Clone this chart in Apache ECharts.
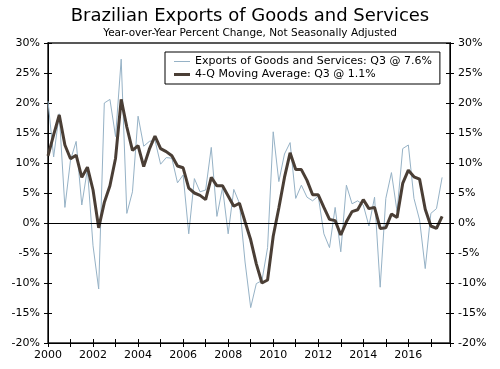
<!DOCTYPE html>
<html><head><meta charset="utf-8">
<script src="https://cdn.jsdelivr.net/npm/echarts@6/dist/echarts.min.js"></script>
<style>html,body{margin:0;padding:0;background:#fff}#c{width:500px;height:369px}</style>
</head><body><div id="c"></div>
<script>
const startYear = 2000;
const yTicks = [-20, -15, -10, -5, 0, 5, 10, 15, 20, 25, 30];
const exportsYoY = [20.3, 11.0, 18.2, 2.6, 10.5, 13.6, 3.0, 9.0, -3.8, -11.0,
  20.0, 20.6, 14.4, 27.3, 1.6, 5.2, 17.8, 12.8, 13.6, 13.8,
  9.8, 10.9, 10.8, 6.7, 8.0, -1.8, 7.4, 5.2, 5.5, 12.6,
  1.1, 5.9, -1.8, 5.6, 3.3, -6.5, -14.1, -10.1, -9.6, -4.1,
  15.2, 6.9, 11.5, 13.4, 4.1, 6.3, 4.3, 3.7, 4.5, -1.8,
  -4.1, 2.6, -4.8, 6.3, 3.2, 3.7, 3.0, -0.5, 4.3, -10.7,
  4.1, 8.4, 1.9, 12.4, 13.0, 4.1, 0.5, -7.6, 1.6, 2.4, 7.6];
const movingAvg = [11.2, 14.7, 18.0, 13.0, 10.7, 11.3, 7.6, 9.3, 5.5, -0.8,
  3.4, 6.2, 10.8, 20.6, 16.0, 12.1, 12.9, 9.4, 12.3, 14.5,
  12.4, 11.9, 11.2, 9.5, 9.2, 5.8, 5.0, 4.6, 3.9, 7.6,
  6.2, 6.2, 4.5, 2.8, 3.3, 0.2, -2.8, -6.8, -10.0, -9.5,
  -2.2, 2.5, 7.6, 11.7, 8.9, 8.9, 7.1, 4.7, 4.7, 2.6,
  0.6, 0.4, -2.0, 0.2, 1.9, 2.2, 3.9, 2.4, 2.6, -0.9,
  -0.8, 1.5, 0.9, 6.6, 8.8, 7.7, 7.3, 2.3, -0.5, -0.9, 1.1];
const seriesNames = ['Exports of Goods and Services: Q3 @ 7.6%', '4-Q Moving Average: Q3 @ 1.1%'];

const toPairs = arr => arr.map((v, i) => [startYear + i / 4, v]);
const FONT = 'DejaVu Sans';
const X_MIN = 2000, X_MAX = 2017.85;
const COL_EXP = '#96b2c6', COL_MA = '#4a3e35';

function yAx(pos, inside, labels) {
  return {
    type: 'value', position: pos, min: -20, max: 30, interval: 5,
    axisLine: { show: true, lineStyle: { color: '#000', width: 1 } },
    axisTick: { show: true, inside: inside, length: 4, lineStyle: { color: '#000' } },
    axisLabel: { show: labels, formatter: '{value}%', color: '#000', fontFamily: FONT, fontSize: 11, margin: 8 },
    splitLine: { show: false }
  };
}
function xAx(inside, labels) {
  return {
    type: 'value', position: 'bottom', min: X_MIN, max: X_MAX, interval: 1,
    axisLine: { show: true, onZero: false, lineStyle: { color: '#000', width: 1 } },
    axisTick: { show: true, inside: inside, length: 4, lineStyle: { color: '#000' } },
    axisLabel: {
      show: labels, color: '#000', fontFamily: FONT, fontSize: 11, margin: 7,
      formatter: v => (Number.isInteger(v) && v % 2 === 0) ? String(v) : ''
    },
    splitLine: { show: false }
  };
}

const chart = echarts.init(document.getElementById('c'), null, { renderer: 'canvas' });
chart.setOption({
  animation: false,
  backgroundColor: '#fff',
  title: {
    text: 'Brazilian Exports of Goods and Services',
    subtext: 'Year-over-Year Percent Change, Not Seasonally Adjusted',
    left: 'center', top: 2, itemGap: 3,
    textStyle: { fontFamily: FONT, fontSize: 18, fontWeight: 'normal', color: '#000' },
    subtextStyle: { fontFamily: FONT, fontSize: 10.5, color: '#000' }
  },
  grid: { left: 48, right: 50, top: 43, bottom: 26, show: true, borderColor: '#222', borderWidth: 1.5, backgroundColor: 'transparent' },
  legend: {
    orient: 'vertical', left: 165, top: 52,
    padding: [4, 8, 4, 9], itemGap: 2, itemWidth: 16, itemHeight: 12,
    borderColor: '#000', borderWidth: 1, backgroundColor: '#fff',
    textStyle: { fontFamily: FONT, fontSize: 11, color: '#000' },
    data: [
      { name: seriesNames[0], icon: 'path://M0,0L16,0L16,1L0,1Z', itemStyle: { color: COL_EXP } },
      { name: seriesNames[1], icon: 'path://M0,0L16,0L16,3L0,3Z', itemStyle: { color: COL_MA } }
    ]
  },
  xAxis: [xAx(false, true), xAx(true, false)],
  yAxis: [yAx('left', false, true), yAx('left', true, false), yAx('right', false, true), yAx('right', true, false)],
  series: [
    {
      name: seriesNames[0], type: 'line', data: toPairs(exportsYoY), xAxisIndex: 0, yAxisIndex: 0,
      symbol: 'none', lineStyle: { color: COL_EXP, width: 1 }, itemStyle: { color: COL_EXP },
      z: 2,
      markLine: { silent: true, symbol: 'none', label: { show: false },
        lineStyle: { color: '#000', width: 1, type: 'solid' }, data: [{ yAxis: 0 }] }
    },
    {
      name: seriesNames[1], type: 'line', data: toPairs(movingAvg), xAxisIndex: 0, yAxisIndex: 0,
      symbol: 'none', lineStyle: { color: COL_MA, width: 3 }, itemStyle: { color: COL_MA },
      z: 3
    }
  ]
});
</script></body></html>
